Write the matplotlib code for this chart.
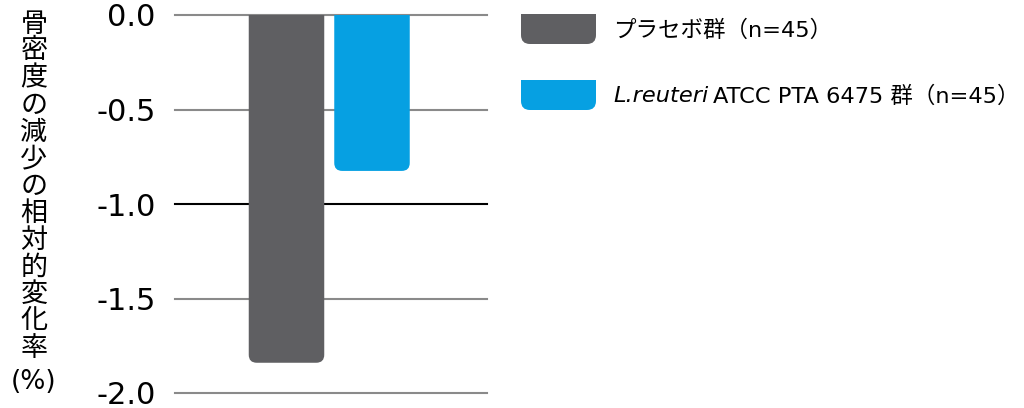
import matplotlib
matplotlib.use("Agg")
import matplotlib.pyplot as plt
from matplotlib.path import Path
from matplotlib.patches import PathPatch

plt.rcParams['font.family'] = ['DejaVu Sans', 'Noto Sans CJK JP']

groups = ["プラセボ群（n=45）", "L.reuteri ATCC PTA 6475 群（n=45）"]
values = [-1.84, -0.825]
colors = ["#5f5f62", "#06a0e2"]
yticks = [0.0, -0.5, -1.0, -1.5, -2.0]
ytick_labels = ["0.0", "-0.5", "-1.0", "-1.5", "-2.0"]
ylabel_chars = list("骨密度の減少の相対的変化率")

W, H = 1024, 408
fig = plt.figure(figsize=(W / 100, H / 100), dpi=100)
ax = fig.add_axes([175 / W, (H - 393) / H, (487 - 175) / W, (393 - 15) / H])

xs = [0, 1]
width = 0.883
ax.set_xlim(-1.304, 2.345)
ax.set_ylim(-2.0, 0.0)

# gridlines
for t in yticks:
    c = "black" if t == -1.0 else "#8a8a8a"
    ax.axhline(t, color=c, lw=1.5, zorder=1, clip_on=False)

# bars with rounded bottom corners
bars = ax.bar(xs, values, width=width, color=colors, zorder=2)
rx, ry = 0.094, 0.042
for b, col in zip(bars, colors):
    b.set_visible(False)
    x0 = b.get_x()
    x1 = x0 + b.get_width()
    y = b.get_y() + b.get_height() if b.get_height() < 0 else b.get_y()
    verts = [(x0, 0), (x0, y + ry), (x0, y), (x0 + rx, y), (x1 - rx, y),
             (x1, y), (x1, y + ry), (x1, 0), (x0, 0)]
    codes = [Path.MOVETO, Path.LINETO, Path.CURVE3, Path.CURVE3, Path.LINETO,
             Path.CURVE3, Path.CURVE3, Path.LINETO, Path.CLOSEPOLY]
    ax.add_patch(PathPatch(Path(verts, codes), facecolor=col, edgecolor='none', zorder=2))

ax.set_yticks(yticks)
ax.set_yticklabels(ytick_labels, fontsize=22)
ax.tick_params(axis='y', length=0, pad=14)
ax.set_xticks([])
for s in ax.spines.values():
    s.set_visible(False)

# vertical y label
for i, ch in enumerate(ylabel_chars):
    fig.text(34 / W, 1 - (24 + i * 27.0) / H, ch, fontsize=19.5, ha='center', va='center',
             family=['Noto Sans CJK JP'])
fig.text(34 / W, 1 - 382 / H, "(%)", fontsize=19, ha='center', va='center')

# legend
def rounded_box(x0, y0, x1, y1, r_px, col):
    # figure-pixel coordinates, y measured from top
    fx0, fx1 = x0 / W, x1 / W
    fy_top, fy_bot = 1 - y0 / H, 1 - y1 / H
    rxf, ryf = r_px / W, r_px / H
    verts = [(fx0, fy_top), (fx0, fy_bot + ryf), (fx0, fy_bot), (fx0 + rxf, fy_bot),
             (fx1 - rxf, fy_bot), (fx1, fy_bot), (fx1, fy_bot + ryf), (fx1, fy_top), (fx0, fy_top)]
    codes = [Path.MOVETO, Path.LINETO, Path.CURVE3, Path.CURVE3, Path.LINETO,
             Path.CURVE3, Path.CURVE3, Path.LINETO, Path.CLOSEPOLY]
    fig.patches.append(PathPatch(Path(verts, codes), facecolor=col, edgecolor='none',
                                 transform=fig.transFigure, figure=fig))

rounded_box(521, 14, 596, 44, 9, colors[0])
rounded_box(521, 80, 596, 110, 9, colors[1])

fs_leg = 16.2
fig.text(613 / W, 1 - 30 / H, groups[0], fontsize=fs_leg, ha='left', va='center')

italic_part, rest = groups[1].split(" ", 1)
t1 = fig.text(613 / W, 1 - 96 / H, italic_part, fontsize=fs_leg, ha='left', va='center',
              style='italic')
renderer = fig.canvas.get_renderer()
bb = t1.get_window_extent(renderer=renderer)
fig.text((bb.x1 + 5) / W, 1 - 96 / H, rest, fontsize=fs_leg, ha='left', va='center')

fig.savefig("out.png", dpi=100, facecolor='white')
